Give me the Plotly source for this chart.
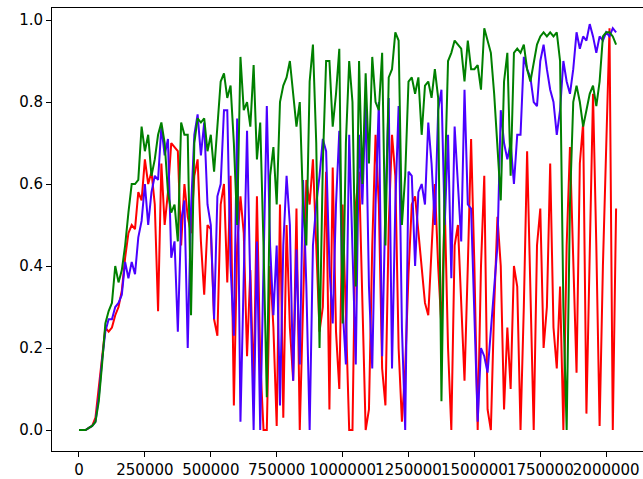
import plotly.graph_objects as go

step = 12500
n_points = 164
steps = [i * step for i in range(n_points)]

red_vals = [
    0, 0, 0, 0.005, 0.01, 0.03, 0.10, 0.18, 0.25, 0.24, 0.25, 0.28, 0.30, 0.34, 0.42, 0.48, 0.50, 0.49, 0.58, 0.56, 0.66, 0.60,
    0.63, 0.55, 0.29, 0.65, 0.50, 0.58, 0.70, 0.69, 0.68, 0.45, 0.60, 0.52, 0.48, 0.62, 0.66, 0.46, 0.33, 0.50, 0.49, 0.27, 0.23,
    0.55, 0.60, 0.36, 0.62, 0.06, 0.45, 0.57, 0.48, 0.18, 0.39, 0.10, 0.57, 0.17, 0.0, 0.0, 0.40, 0.25, 0.01, 0.55, 0.03,
    0.50, 0.25, 0.12, 0.54, 0.0, 0.30, 0.61, 0.55, 0.66, 0.45, 0.24, 0.30, 0.63, 0.05, 0.64, 0.24, 0.10, 0.55, 0.30, 0.0, 0.0,
    0.55, 0.63, 0.30, 0.0, 0.05, 0.45, 0.72, 0.55, 0.15, 0.06, 0.50, 0.72, 0.62, 0.20, 0.02, 0.15, 0.38, 0.55, 0.57, 0.48,
    0.38, 0.31, 0.28, 0.45, 0.60, 0.40, 0.25, 0.55, 0.20, 0.0, 0.45, 0.50, 0.30, 0.12, 0.40, 0.71, 0.40, 0.0, 0.40, 0.62,
    0.05, 0.0, 0.30, 0.52, 0.40, 0.05, 0.25, 0.10, 0.40, 0.35, 0.0, 0.30, 0.68, 0.30, 0.0, 0.45, 0.54, 0.20, 0.30, 0.65,
    0.25, 0.15, 0.35, 0.0, 0.45, 0.69, 0.40, 0.14, 0.65, 0.75, 0.04, 0.40, 0.82, 0.45, 0.01, 0.40, 0.70, 0.98, 0.0, 0.54,
]

blue_vals = [
    0, 0, 0, 0.005, 0.01, 0.02, 0.08, 0.17, 0.24, 0.27, 0.27, 0.30, 0.31, 0.33, 0.41, 0.37, 0.41, 0.38, 0.47, 0.51, 0.60, 0.50,
    0.58, 0.62, 0.61, 0.74, 0.67, 0.71, 0.42, 0.46, 0.24, 0.51, 0.56, 0.20, 0.54, 0.72, 0.77, 0.67, 0.75, 0.55, 0.50, 0.27, 0.57,
    0.60, 0.78, 0.78, 0.40, 0.23, 0.76, 0.02, 0.40, 0.73, 0.35, 0.0, 0.46, 0.0, 0.40, 0.79, 0.45, 0.28, 0.45, 0.06, 0.45,
    0.62, 0.50, 0.12, 0.44, 0.16, 0.61, 0.35, 0.0, 0.45, 0.55, 0.62, 0.71, 0.68, 0.40, 0.26, 0.55, 0.73, 0.30, 0.16, 0.72, 0.45, 0.16,
    0.72, 0.55, 0.80, 0.35, 0.15, 0.55, 0.80, 0.18, 0.55, 0.81, 0.15, 0.55, 0.79, 0.25, 0.0, 0.63, 0.62, 0.40, 0.58, 0.60,
    0.55, 0.75, 0.65, 0.50, 0.78, 0.83, 0.50, 0.72, 0.37, 0.74, 0.60, 0.46, 0.83, 0.55, 0.54, 0.30, 0.02, 0.20, 0.18, 0.14, 0.25, 0.35, 0.45, 0.78,
    0.70, 0.66, 0.70, 0.60, 0.72, 0.72, 0.91, 0.88, 0.86, 0.80, 0.79, 0.90, 0.94, 0.88, 0.83, 0.80, 0.72, 0.78, 0.90, 0.85,
    0.82, 0.88, 0.97, 0.93, 0.96, 0.95, 0.99, 0.96, 0.92, 0.96, 0.95, 0.97, 0.96, 0.98, 0.97,
]

green_vals = [
    0, 0, 0, 0.005, 0.01, 0.02, 0.07, 0.16, 0.26, 0.29, 0.31, 0.40, 0.36, 0.39, 0.45, 0.53, 0.60, 0.60, 0.61, 0.74, 0.68, 0.72,
    0.62, 0.66, 0.72, 0.75, 0.70, 0.58, 0.53, 0.55, 0.46, 0.75, 0.72, 0.72, 0.28, 0.70, 0.76, 0.75, 0.76, 0.68, 0.72, 0.63, 0.75,
    0.85, 0.87, 0.81, 0.84, 0.70, 0.50, 0.91, 0.78, 0.80, 0.74, 0.89, 0.66, 0.75, 0.45, 0.08, 0.62, 0.69, 0.55, 0.80, 0.84,
    0.86, 0.90, 0.82, 0.74, 0.80, 0.55, 0.45, 0.85, 0.94, 0.70, 0.20, 0.65, 0.90, 0.90, 0.74, 0.82, 0.93, 0.26, 0.70, 0.90, 0.80, 0.35,
    0.90, 0.60, 0.87, 0.65, 0.91, 0.80, 0.78, 0.92, 0.45, 0.86, 0.88, 0.97, 0.95, 0.50, 0.62, 0.85, 0.86, 0.82, 0.86, 0.72,
    0.84, 0.85, 0.81, 0.88, 0.81, 0.07, 0.60, 0.90, 0.92, 0.95, 0.94, 0.93, 0.85, 0.95, 0.88, 0.88, 0.89, 0.83, 0.98, 0.95, 0.92, 0.82,
    0.70, 0.56, 0.85, 0.92, 0.62, 0.92, 0.93, 0.92, 0.94, 0.88, 0.85, 0.90, 0.94, 0.96, 0.97, 0.96, 0.97, 0.96, 0.97, 0.90, 0.30, 0.0, 0.55,
    0.80, 0.84, 0.80, 0.74, 0.78, 0.82, 0.84, 0.79, 0.85, 0.96, 0.97, 0.97, 0.96, 0.94,
]

x_tick_vals = [0, 250000, 500000, 750000, 1000000, 1250000, 1500000, 1750000, 2000000]
x_tick_text = ["0", "250000", "500000", "750000", "1000000", "1250000", "1500000", "1750000", "2000000"]
y_tick_vals = [0.0, 0.2, 0.4, 0.6, 0.8, 1.0]
y_tick_text = ["0.0", "0.2", "0.4", "0.6", "0.8", "1.0"]

fig = go.Figure()
for vals, color in [(red_vals, "#ff0000"), (blue_vals, "#4a00ff"), (green_vals, "#008000")]:
    fig.add_trace(go.Scatter(x=steps, y=vals, mode="lines",
                             line=dict(color=color, width=2), showlegend=False,
                             hoverinfo="skip"))

fig.update_layout(
    width=643, height=479,
    margin=dict(l=52, r=0, t=8, b=28, autoexpand=False),
    paper_bgcolor="white", plot_bgcolor="white",
    font=dict(family="DejaVu Sans", size=15, color="black"),
)
fig.update_xaxes(
    range=[-102400, 2139600], showgrid=False, zeroline=False, automargin=False,
    showline=True, linecolor="black", linewidth=1, mirror=True,
    ticks="outside", ticklen=5, tickcolor="black", tickangle=0,
    tickvals=x_tick_vals, ticktext=x_tick_text,
)
fig.update_yaxes(
    range=[-0.0512, 1.0293], showgrid=False, zeroline=False, automargin=False,
    showline=True, linecolor="black", linewidth=1,
    ticks="outside", ticklen=5, tickcolor="black",
    tickvals=y_tick_vals, ticktext=y_tick_text,
)

fig.write_html(
    "out.html",
    config={"displayModeBar": False},
    post_script="document.body.style.margin='0';document.body.style.overflow='hidden';",
)
